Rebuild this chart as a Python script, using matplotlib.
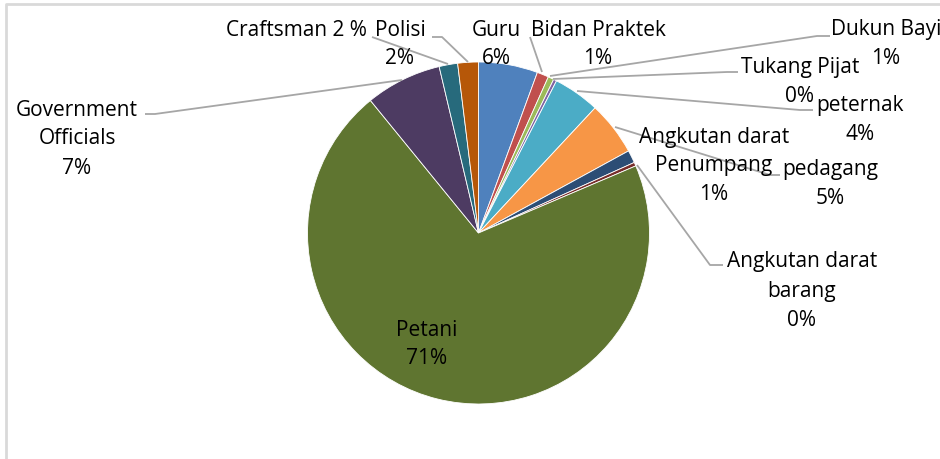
import matplotlib
matplotlib.use("Agg")
import matplotlib.pyplot as plt

# ---- data (percent shares) ----
categories = ["Guru", "Bidan Praktek", "Dukun Bayi", "Tukang Pijat", "peternak",
              "pedagang", "Angkutan darat Penumpang", "Angkutan darat barang",
              "Petani", "Government Officials", "Craftsman", "Polisi"]
values = [5.6, 1.1, 0.55, 0.3, 4.4, 5.1, 1.2, 0.35, 70.6, 7.2, 1.75, 1.95]
label_lines = [
    ["Guru", "6%"],
    ["Bidan Praktek", "1%"],
    ["Dukun Bayi", "1%"],
    ["Tukang Pijat", "0%"],
    ["peternak", "4%"],
    ["pedagang", "5%"],
    ["Angkutan darat", "Penumpang", "1%"],
    ["Angkutan darat", "barang", "0%"],
    ["Petani", "71%"],
    ["Government", "Officials", "7%"],
    ["Craftsman 2 %"],
    ["Polisi", "2%"],
]
colors = ["#4F81BD", "#C0504D", "#9BBB59", "#8064A2", "#4BACC6", "#F79646",
          "#2C4D75", "#772C2A", "#5F7530", "#4D3B62", "#276A7C", "#B65708"]

# ---- layout (pixel coordinates, y measured from top) ----
W, H = 940, 459
label_pos = [(496, 30), (598, 30), (886, 30), (800, 68), (860, 105), (830, 170),
             (714, 137), (802, 262), (427, 330), (77, 110), (296, 30), (400, 30)]
line_step = 29
leaders = {
    "Guru": None,
    "Bidan Praktek": [(530, 37), (542, 72)],
    "Dukun Bayi": [(830, 36), (817, 36), (550, 76)],
    "Tukang Pijat": [(738, 72), (727, 72), (553, 79)],
    "peternak": [(813, 110), (800, 110), (577, 91)],
    "pedagang": [(780, 175), (770, 175), (615, 127)],
    "Angkutan darat barang": [(723, 265), (710, 265), (637, 165)],
    "Government Officials": [(145, 114), (155, 114), (402, 80)],
    "Craftsman": [(372, 37), (448, 64)],
    "Polisi": [(432, 37), (442, 37), (468, 62)],
}

fig = plt.figure(figsize=(W / 100, H / 100), dpi=100)
ax = fig.add_axes([0, 0, 1, 1])

cx, cy, r = 478.5, 233, 171
ax.pie(values, colors=colors, startangle=90, counterclock=False,
       center=(cx, H - cy), radius=r,
       wedgeprops=dict(edgecolor="white", linewidth=0.6), frame=False)
ax.set_xlim(0, W)
ax.set_ylim(0, H)
ax.set_aspect("equal")
ax.axis("off")

font = dict(family=["Open Sans", "DejaVu Sans"], fontsize=15, color="#000000")
for lines, (x, y) in zip(label_lines, label_pos):
    for i, t in enumerate(lines):
        ax.text(x, H - (y + i * line_step), t, ha="center", va="center", **font)

for name, pts in leaders.items():
    if pts:
        xs = [p[0] for p in pts]
        ys = [H - p[1] for p in pts]
        ax.plot(xs, ys, color="#A6A6A6", lw=1.3, solid_capstyle="butt")

# chart area border (left and top visible)
ax.plot([6, 6, W], [0, H - 4, H - 4], color="#D9D9D9", lw=2)

fig.savefig("out.png", dpi=100)
